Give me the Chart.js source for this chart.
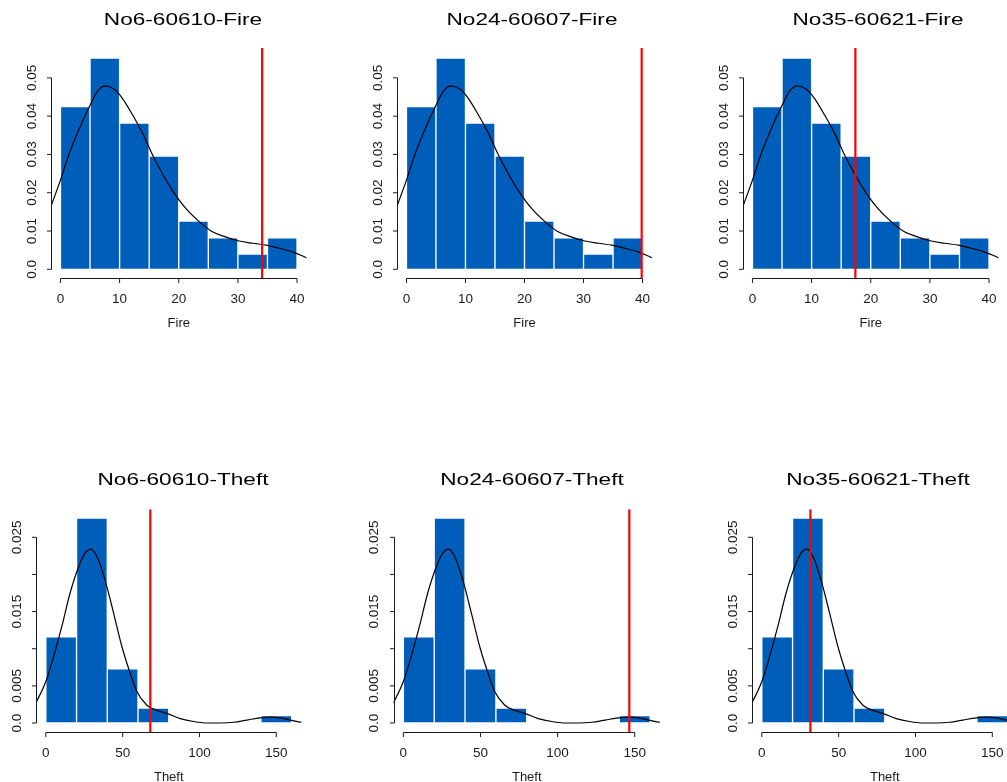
<!DOCTYPE html>
<html>
<head>
<meta charset="utf-8">
<script src="https://cdn.jsdelivr.net/npm/chart.js@4.4.1/dist/chart.umd.min.js"></script>
<style>
  html, body { margin: 0; padding: 0; background: #fff; }
  body { position: relative; width: 1007px; height: 782px; overflow: hidden; }
  canvas { position: absolute; }
</style>
</head>
<body>
<canvas id="p1"></canvas>
<canvas id="p2"></canvas>
<canvas id="p3"></canvas>
<canvas id="p4"></canvas>
<canvas id="p5"></canvas>
<canvas id="p6"></canvas>
<script>
// histogram bins (density scale)
const fireBinMid = [2.5, 7.5, 12.5, 17.5, 22.5, 27.5, 32.5, 37.5];
const fireBinDensity = [0.0425, 0.0552, 0.0382, 0.0296, 0.0126, 0.0082, 0.0040, 0.0082];
const theftBinMid = [10, 30, 50, 70, 150];
const theftBinDensity = [0.0116, 0.0276, 0.0073, 0.0020, 0.0010];

// kernel density curves
const fireCurveX = [-2, 0, 1.5, 3.2, 4.9, 6.3, 7.6, 9.1, 10.5, 12.2, 13.9, 15.6, 17.2, 18.9, 21.2, 23.5, 25.7, 28, 30.2, 32.5, 34.8, 37, 39.3, 41.5, 42.5];
const fireCurveY = [0.0148, 0.0233, 0.0303, 0.0368, 0.0425, 0.0466, 0.0479, 0.0470, 0.0446, 0.0403, 0.0355, 0.0298, 0.0251, 0.0207, 0.0159, 0.0124, 0.0098, 0.0084, 0.0074, 0.0068, 0.0063, 0.0055, 0.0045, 0.0031, 0.0025];
const theftCurveX = [-8, -6.5, 0, 5, 10.4, 15.8, 21.3, 25.6, 29.3, 33.7, 38.6, 44.1, 49.5, 54.9, 59.3, 65.8, 72.3, 78.8, 87.5, 96.2, 104.9, 113.6, 122.3, 130.9, 139.6, 146.1, 152.6, 159.1, 166.6, 170];
const theftCurveY = [0.0021, 0.0027, 0.0056, 0.0089, 0.0130, 0.0175, 0.0210, 0.0229, 0.0234, 0.0222, 0.0192, 0.0148, 0.0103, 0.0067, 0.0042, 0.0024, 0.0017, 0.0013, 0.0006, 0.0002, 0.0000, 0.0000, 0.0001, 0.0004, 0.0007, 0.0008, 0.0007, 0.0004, 0.0001, 0.0001];

// axes
const fireXTicks = [0, 10, 20, 30, 40];
const fireXLabels = ['0', '10', '20', '30', '40'];
const fireYTicks = [0, 0.01, 0.02, 0.03, 0.04, 0.05];
const fireYLabels = ['0.0', '0.01', '0.02', '0.03', '0.04', '0.05'];
const theftXTicks = [0, 50, 100, 150];
const theftXLabels = ['0', '50', '100', '150'];
const theftYTicks = [0, 0.005, 0.01, 0.015, 0.02, 0.025];
const theftYLabels = ['0.0', '0.005', '', '0.015', '', '0.025'];

const panelTitles = ['No6-60610-Fire', 'No24-60607-Fire', 'No35-60621-Fire',
                     'No6-60610-Theft', 'No24-60607-Theft', 'No35-60621-Theft'];
// observed value of each station (red line)
const stationValues = [34.1, 39.85, 17.4, 68, 146.5, 31.6];

const BLUE = '#005ebb';
const INK = '#1a1a1a';

// R style axes + titles
const rAxes = {
  id: 'rAxes',
  afterDraw(chart, args, o) {
    const ctx = chart.ctx;
    const xs = chart.scales.x, ys = chart.scales.y;
    const area = chart.chartArea;
    ctx.save();
    ctx.strokeStyle = INK;
    ctx.fillStyle = INK;
    ctx.lineWidth = 1;

    // x axis
    const xt = xs.ticks.map(t => xs.getPixelForValue(t.value));
    const yb = Math.round(area.bottom) + 0.5;
    ctx.beginPath();
    ctx.moveTo(xt[0], yb);
    ctx.lineTo(xt[xt.length - 1], yb);
    xt.forEach(px => { ctx.moveTo(px, yb); ctx.lineTo(px, yb + 4.5); });
    ctx.stroke();
    ctx.font = '13.5px "Liberation Sans", Arial, sans-serif';
    ctx.textAlign = 'center';
    ctx.textBaseline = 'alphabetic';
    xt.forEach((px, i) => ctx.fillText(o.xLabels[i], px, area.bottom + 25));
    ctx.font = '13px "Liberation Sans", Arial, sans-serif';
    ctx.fillText(o.xTitle, (area.left + area.right) / 2, area.bottom + 49);

    // y axis
    const yt = ys.ticks.map(t => ys.getPixelForValue(t.value));
    const xl = Math.round(area.left) + 0.5;
    ctx.beginPath();
    ctx.moveTo(xl, yt[0]);
    ctx.lineTo(xl, yt[yt.length - 1]);
    yt.forEach(py => { ctx.moveTo(xl, py); ctx.lineTo(xl - 4.5, py); });
    ctx.stroke();
    ctx.font = '13.5px "Liberation Sans", Arial, sans-serif';
    ctx.textBaseline = 'middle';
    yt.forEach((py, i) => {
      if (!o.yLabels[i]) return;
      ctx.save();
      ctx.translate(area.left - 19, py);
      ctx.rotate(-Math.PI / 2);
      ctx.fillText(o.yLabels[i], 0, 0);
      ctx.restore();
    });

    // title
    ctx.font = '17px "Liberation Sans", Arial, sans-serif';
    ctx.textBaseline = 'alphabetic';
    ctx.fillStyle = '#000';
    ctx.translate(o.titleX, o.titleY);
    ctx.scale(1.33, 1);
    ctx.fillText(o.title, 0, 0);
    ctx.restore();
  }
};

function makePanel(id, box, area, cfg) {
  const cv = document.getElementById(id);
  cv.width = box.w;
  cv.height = box.h;
  cv.style.left = box.left + 'px';
  cv.style.top = box.top + 'px';

  const bars = cfg.binMid.map((m, i) => ({ x: m, y: cfg.binDensity[i] }));
  const curve = cfg.curveX.map((v, i) => ({ x: v, y: cfg.curveY[i] }));
  const cut = [{ x: cfg.value, y: cfg.yMin }, { x: cfg.value, y: cfg.yMax }];

  return new Chart(cv, {
    type: 'bar',
    data: {
      datasets: [
        {
          type: 'line', data: cut, borderColor: '#ff0000', borderWidth: 2.2,
          pointRadius: 0, order: 0
        },
        {
          type: 'line', data: curve, borderColor: '#000', borderWidth: 1.2,
          pointRadius: 0, cubicInterpolationMode: 'monotone', order: 1
        },
        {
          type: 'bar', data: bars, backgroundColor: BLUE, borderColor: '#ffffff',
          borderWidth: 1, borderSkipped: false, barPercentage: 1, categoryPercentage: 1, order: 2
        }
      ]
    },
    options: {
      responsive: false,
      animation: false,
      devicePixelRatio: 1,
      events: [],
      layout: {
        padding: {
          left: area.left - box.left,
          right: box.left + box.w - area.right,
          top: area.top - box.top,
          bottom: box.top + box.h - area.bottom
        }
      },
      scales: {
        x: {
          type: 'linear', display: false, offset: false,
          min: cfg.xMin, max: cfg.xMax,
          afterBuildTicks: s => { s.ticks = cfg.xTicks.map(v => ({ value: v })); }
        },
        y: {
          type: 'linear', display: false,
          min: cfg.yMin, max: cfg.yMax,
          afterBuildTicks: s => { s.ticks = cfg.yTicks.map(v => ({ value: v })); }
        }
      },
      plugins: {
        legend: { display: false },
        tooltip: { enabled: false },
        rAxes: {
          xLabels: cfg.xLabels, yLabels: cfg.yLabels, xTitle: cfg.xTitle,
          title: cfg.title, titleX: cfg.titleX - box.left, titleY: cfg.titleY - box.top
        }
      }
    },
    plugins: [rAxes]
  });
}

const fireCfg = {
  binMid: fireBinMid, binDensity: fireBinDensity,
  curveX: fireCurveX, curveY: fireCurveY,
  xMin: -1.6, xMax: 41.6, yMin: -0.00227, yMax: 0.0578,
  xTicks: fireXTicks, xLabels: fireXLabels, yTicks: fireYTicks, yLabels: fireYLabels,
  xTitle: 'Fire', titleY: 25
};
const theftCfg = {
  binMid: theftBinMid, binDensity: theftBinDensity,
  curveX: theftCurveX, curveY: theftCurveY,
  xMin: -6.4, xMax: 166.4, yMin: -0.00125, yMax: 0.02877,
  xTicks: theftXTicks, xLabels: theftXLabels, yTicks: theftYTicks, yLabels: theftYLabels,
  xTitle: 'Theft', titleY: 484.5
};

const colLeft = [0, 345, 690];
const titleCenters = [183, 532, 878];
const fireAreas = [[51, 306.5], [397, 652], [743, 998.5]];
const theftAreas = [[36, 301.5], [393.5, 660], [752, 1017.5]];

for (let c = 0; c < 3; c++) {
  makePanel('p' + (c + 1),
    { left: colLeft[c], top: 0, w: 340, h: 345 },
    { left: fireAreas[c][0], right: fireAreas[c][1], top: 48, bottom: 278 },
    Object.assign({}, fireCfg, { value: stationValues[c], title: panelTitles[c], titleX: titleCenters[c] }));
  makePanel('p' + (c + 4),
    { left: colLeft[c], top: 440, w: 340, h: 342 },
    { left: theftAreas[c][0], right: theftAreas[c][1], top: 509.3, bottom: 732.3 },
    Object.assign({}, theftCfg, { value: stationValues[c + 3], title: panelTitles[c + 3], titleX: titleCenters[c] }));
}
</script>
</body>
</html>
